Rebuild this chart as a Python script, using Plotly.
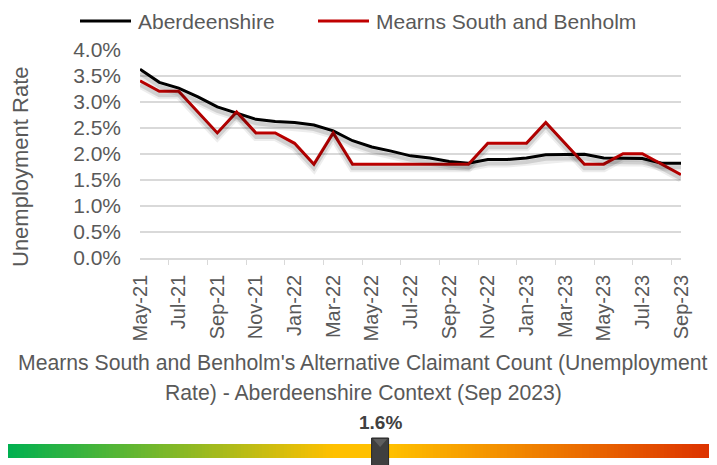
import plotly.graph_objects as go

months = ["May-21", "Jun-21", "Jul-21", "Aug-21", "Sep-21", "Oct-21", "Nov-21", "Dec-21",
          "Jan-22", "Feb-22", "Mar-22", "Apr-22", "May-22", "Jun-22", "Jul-22", "Aug-22",
          "Sep-22", "Oct-22", "Nov-22", "Dec-22", "Jan-23", "Feb-23", "Mar-23", "Apr-23",
          "May-23", "Jun-23", "Jul-23", "Aug-23", "Sep-23"]
aberdeenshire = [3.62, 3.37, 3.26, 3.09, 2.90, 2.78, 2.66, 2.62,
                 2.60, 2.55, 2.44, 2.25, 2.13, 2.05, 1.96, 1.92,
                 1.85, 1.82, 1.89, 1.89, 1.92, 1.98, 1.99, 1.99,
                 1.92, 1.91, 1.91, 1.82, 1.82]
mearns = [3.4, 3.2, 3.2, 2.8, 2.4, 2.8, 2.4, 2.4,
          2.2, 1.8, 2.4, 1.8, 1.8, 1.8, 1.8, 1.8,
          1.8, 1.8, 2.2, 2.2, 2.2, 2.6, 2.2, 1.8,
          1.8, 2.0, 2.0, 1.8, 1.6]
series_names = ["Aberdeenshire", "Mearns South and Benholm"]
series_colors = ["#000000", "#c00000"]

gauge_min, gauge_max = 0.0, 3.04
gauge_value = mearns[-1]
gauge_colors = [[0.0, "#00b050"], [0.46, "#ffc000"], [0.54, "#ffc000"], [1.0, "#dc3000"]]

title_lines = ["Mearns South and Benholm's Alternative Claimant Count (Unemployment",
               "Rate) - Aberdeenshire Context (Sep 2023)"]

GREY = "#595959"
FONT = "Liberation Sans, Arial, sans-serif"
# the page body has an 8px margin, so the figure is sized to the visible window
OFF = 8
W, H = 717 - OFF, 465 - OFF


def fx(a):
    return (a - OFF) / W


def fy(top):
    return 1 - (top - OFF) / H


def px_x(a, b):
    return [max(0, fx(a)), min(1, fx(b))]


def px_y(top, bottom):
    return [max(0, fy(bottom)), min(1, fy(top))]


fig = go.Figure()

# soft drop shadows drawn on a slightly offset copy of the axes
for series in (aberdeenshire, mearns):
    fig.add_trace(go.Scatter(x=months, y=series, mode="lines", xaxis="x2", yaxis="y2",
                             line=dict(color="rgba(0,0,0,0.07)", width=8),
                             showlegend=False, hoverinfo="skip"))
    fig.add_trace(go.Scatter(x=months, y=series, mode="lines", xaxis="x2", yaxis="y2",
                             line=dict(color="rgba(0,0,0,0.12)", width=4),
                             showlegend=False, hoverinfo="skip"))

for series, name, color in zip((aberdeenshire, mearns), series_names, series_colors):
    fig.add_trace(go.Scatter(x=months, y=series, mode="lines", name=name,
                             line=dict(color=color, width=3), showlegend=False))

# gradient gauge
n = 200
steps = [gauge_min + (gauge_max - gauge_min) * i / (n - 1) for i in range(n)]
fig.add_trace(go.Heatmap(x=steps, y=[0.5], z=[steps], xaxis="x3", yaxis="y3",
                         colorscale=gauge_colors, showscale=False, hoverinfo="skip",
                         zmin=gauge_min, zmax=gauge_max))
gauge_frac = (gauge_value - gauge_min) / (gauge_max - gauge_min)

axis_common = dict(showgrid=False, zeroline=False, showticklabels=False, fixedrange=True,
                   automargin=False)

# legend drawn by hand so the spacing matches the original
legend_shapes, legend_notes = [], []
for name, color, x0 in zip(series_names, series_colors, (80, 318)):
    legend_shapes.append(dict(type="line", xref="paper", yref="paper",
                              x0=fx(x0), x1=fx(x0 + 51), y0=fy(21), y1=fy(21),
                              line=dict(color=color, width=3)))
    legend_notes.append(dict(text=name, x=fx(x0 + 56), y=fy(21), xref="paper", yref="paper",
                             xanchor="left", yanchor="middle", showarrow=False,
                             font=dict(size=21, color=GREY)))

title_notes = [dict(text=line, x=fx(363), y=fy(top), xref="paper", yref="paper",
                    xanchor="center", yanchor="middle", showarrow=False,
                    font=dict(size=21.2, color=GREY))
               for line, top in zip(title_lines, (363, 393))]

fig.update_layout(
    width=W, height=H,
    margin=dict(l=0, r=0, t=0, b=0, autoexpand=False),
    paper_bgcolor="white", plot_bgcolor="rgba(0,0,0,0)",
    font=dict(family=FONT, color=GREY, size=21),
    showlegend=False,
    xaxis=dict(domain=px_x(140, 681), type="category", categoryarray=months,
               tickmode="array", tickvals=months[::2], tickangle=-90,
               tickson="boundaries", ticks="outside", ticklen=5, tickcolor="#d9d9d9",
               showline=True, linecolor="#d9d9d9", linewidth=1.5, showgrid=False,
               ticklabelstandoff=7,
               tickfont=dict(size=20, color=GREY), fixedrange=True, automargin=False),
    yaxis=dict(domain=px_y(49.5, 258), range=[0, 4.0], dtick=0.5, tickformat=".1f",
               ticksuffix="%", showgrid=True, gridcolor="#d9d9d9", gridwidth=1.5,
               zeroline=False, showline=False, ticks="", ticklabelstandoff=18,
               tickfont=dict(size=21, color=GREY), fixedrange=True, automargin=False),
    xaxis2=dict(domain=px_x(143, 684), type="category", categoryarray=months,
                overlaying="x", anchor="y2", visible=False, fixedrange=True, automargin=False),
    yaxis2=dict(domain=px_y(53.5, 262), range=[0, 4.0], anchor="x2", visible=False,
                fixedrange=True, automargin=False),
    xaxis3=dict(domain=px_x(7, 715), range=[gauge_min, gauge_max], anchor="y3", **axis_common),
    yaxis3=dict(domain=px_y(444, 458), range=[0, 1], anchor="x3", **axis_common),
    annotations=[
        dict(text="Unemployment Rate", textangle=-90, x=fx(20), y=fy(167),
             xref="paper", yref="paper", xanchor="center", yanchor="middle",
             showarrow=False, font=dict(size=22, color=GREY)),
        dict(text=f"<b>{gauge_value:.1f}%</b>", x=gauge_value, xref="x3",
             y=fy(422), yref="paper", yanchor="middle", showarrow=False,
             font=dict(size=19, color="#404040")),
    ] + legend_notes + title_notes,
    shapes=legend_shapes + [
        dict(type="rect", xref="x3 domain", yref="paper", xsizemode="pixel", ysizemode="pixel",
             xanchor=gauge_frac, yanchor=fy(451), x0=-8.5, x1=8.5, y0=-15, y1=13,
             fillcolor="#3f3f3f", line=dict(color="#262626", width=1)),
        dict(type="path", xref="x3 domain", yref="paper", xsizemode="pixel", ysizemode="pixel",
             xanchor=gauge_frac, yanchor=fy(451), path="M-7,12 L7,12 L0,4 Z",
             fillcolor="#5e5e5e", line=dict(width=0)),
    ],
)

fig.write_html("out.html")
